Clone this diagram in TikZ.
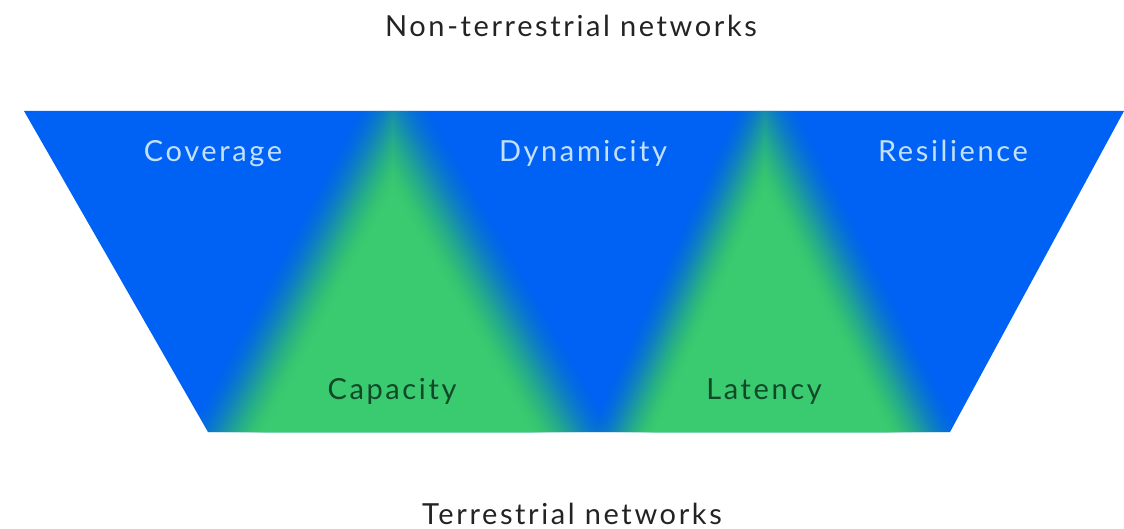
\documentclass[tikz,border=0pt]{standalone}
\usepackage{fontspec}
\setmainfont{Lato}[LetterSpace=9]
\definecolor{netblue}{RGB}{0,98,245}
\definecolor{netgreen}{RGB}{58,202,112}
\definecolor{paletext}{RGB}{195,224,255}
\definecolor{deeptext}{RGB}{18,72,40}
\definecolor{captext}{RGB}{35,35,35}

% draw a soft-edged green wedge: #1 apex x, #2 base-left x, #3 base-right x
\newcommand{\softwedge}[3]{%
  \foreach \k in {1,...,40}{%
    \pgfmathsetmacro{\ta}{(\k-1)/40}%
    \pgfmathsetmacro{\tb}{\k/40}%
    \pgfmathsetmacro{\fa}{3*\ta*\ta-2*\ta*\ta*\ta}%
    \pgfmathsetmacro{\fb}{3*\tb*\tb-2*\tb*\tb*\tb}%
    \pgfmathsetmacro{\al}{(\fb-\fa)/(1-\fa)}%
    \pgfmathsetmacro{\s}{78*(1-2*\k/40)}%
    \pgfmathsetmacro{\dy}{369+\s}%
    \pgfmathsetmacro{\xl}{#1-(#1-#2)/321*\dy}%
    \pgfmathsetmacro{\xr}{#1+(#3-#1)/321*\dy}%
    \fill[netgreen, fill opacity=\al] (#1,111-\s) -- (\xr,480) -- (\xl,480) -- cycle;
  }%
}

\tikzset{
  toplabel/.style={anchor=base, text=paletext, font=\fontsize{14.5}{17}\selectfont},
  lowlabel/.style={anchor=base, text=deeptext, font=\fontsize{14.5}{17}\selectfont},
  caption/.style={anchor=base, text=captext, font=\fontsize{14.5}{17}\selectfont}
}

\begin{document}
\begin{tikzpicture}[x=0.5pt,y=-0.5pt]
\useasboundingbox (0,0) rectangle (1124,529);

% funnel outline
\coordinate (tl) at (24,111);
\coordinate (tr) at (1124,111);
\coordinate (br) at (950,432);
\coordinate (bl) at (208,432);

\begin{scope}
  \clip (tl) -- (tr) -- (br) -- (bl) -- cycle;
  \fill[netblue] (0,100) rectangle (1124,440);
  \softwedge{393}{222}{577}
  \softwedge{765}{618}{928}
\end{scope}

% labels
\node[toplabel] (coverage)   at (213,162) {Coverage};
\node[toplabel] (dynamicity) at (583,162) {Dynamicity};
\node[toplabel] (resilience) at (953,162) {Resilience};
\node[lowlabel] (capacity)   at (392,399) {Capacity};
\node[lowlabel] (latency)    at (764,399) {Latency};

\node[caption] (ntn) at (571,37)  {Non-terrestrial networks};
\node[caption] (tn)  at (572,524) {Terrestrial networks};
\end{tikzpicture}
\end{document}
